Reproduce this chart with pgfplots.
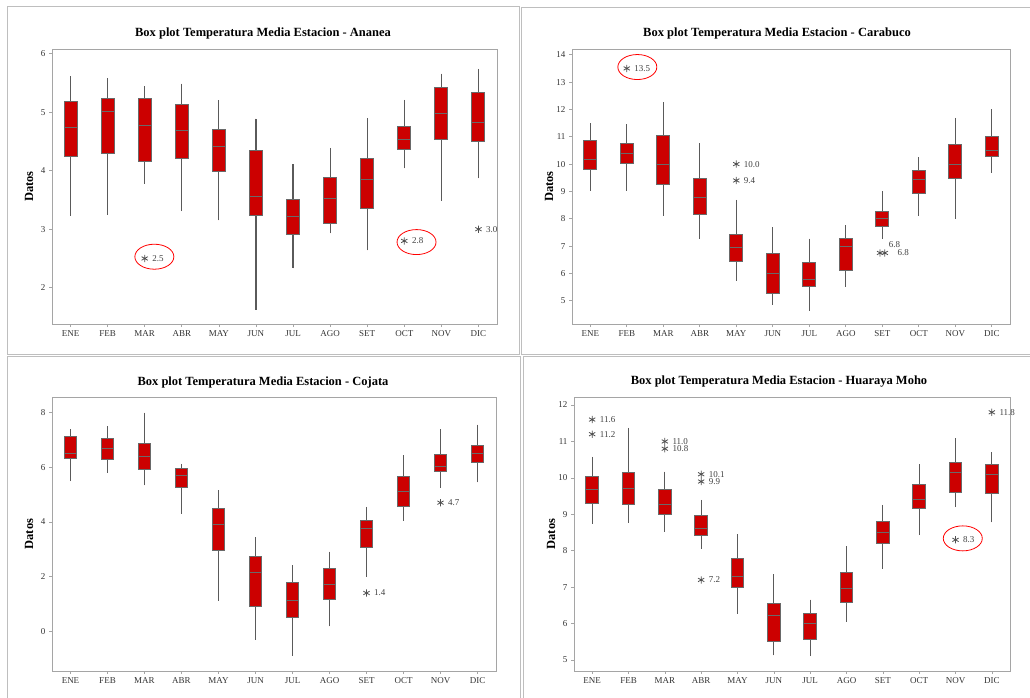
\documentclass[border=0pt]{standalone}
\usepackage{fontspec}
\setmainfont{Liberation Serif}
\usepackage{pgfplots}
\usepackage{pgfplotstable}
\usepgfplotslibrary{statistics}
\pgfplotsset{compat=1.18}

\definecolor{boxred}{RGB}{204,0,0}
\definecolor{boxgray}{RGB}{105,105,105}
\definecolor{whiskgray}{RGB}{90,90,90}
\definecolor{framegray}{RGB}{165,165,165}
\definecolor{panelgray}{RGB}{190,190,190}
\definecolor{outgray}{RGB}{80,80,80}

% lw = lower whisker, lq/uq = quartiles, uw = upper whisker (ENE ... DIC)
\pgfplotstableread{
lw lq med uq uw
3.23 4.25 4.73 5.18 5.61
3.25 4.29 5.01 5.24 5.58
3.78 4.16 4.77 5.24 5.44
3.31 4.21 4.68 5.13 5.49
3.15 3.99 4.41 4.70 5.20
1.62 3.23 3.56 4.34 4.89
2.33 2.91 3.22 3.50 4.11
2.93 3.09 3.53 3.89 4.39
2.64 3.36 3.85 4.20 4.90
4.04 4.36 4.54 4.76 5.21
3.49 4.54 4.97 5.43 5.66
3.87 4.50 4.82 5.33 5.74
}\ananea

\pgfplotstableread{
lw lq med uq uw
9.02 9.80 10.18 10.87 11.50
9.02 10.01 10.37 10.76 11.46
8.11 9.26 9.99 11.03 12.27
7.27 8.14 8.77 9.48 10.76
5.73 6.43 6.95 7.44 8.69
4.85 5.25 6.00 6.74 7.69
4.63 5.51 5.76 6.41 7.27
5.51 6.11 6.98 7.27 7.76
7.27 7.71 8.00 8.27 9.00
8.11 8.91 9.43 9.78 10.25
8.00 9.47 9.99 10.70 11.69
9.69 10.28 10.50 11.01 12.00
}\carabuco

\pgfplotstableread{
lw lq med uq uw
5.49 6.30 6.50 7.12 7.39
5.79 6.28 6.68 7.06 7.49
5.33 5.91 6.38 6.85 7.99
4.30 5.26 5.71 5.95 6.12
1.11 2.94 3.91 4.49 5.15
-0.30 0.89 2.15 2.73 3.43
-0.90 0.50 1.12 1.78 2.41
0.18 1.16 1.71 2.28 2.91
1.99 3.06 3.76 4.05 4.55
4.04 4.57 5.11 5.67 6.43
5.24 5.84 6.02 6.46 7.39
5.44 6.18 6.50 6.79 7.55
}\cojata

\pgfplotstableread{
lw lq med uq uw
8.74 9.30 9.69 10.03 10.58
8.77 9.26 9.72 10.14 11.37
8.52 9.00 9.26 9.67 10.17
8.05 8.42 8.62 8.97 9.40
6.27 6.98 7.30 7.80 8.46
5.13 5.52 6.21 6.54 7.35
5.11 5.56 6.00 6.27 6.66
6.05 6.58 6.96 7.41 8.12
7.51 8.19 8.50 8.80 9.26
8.43 9.16 9.42 9.83 10.37
9.20 9.61 10.15 10.42 11.09
8.78 9.58 10.08 10.36 10.71
}\huaraya

\pgfplotsset{
  boxpanel/.style={
    scale only axis, anchor=south west,
    xmin=0.5, xmax=12.5,
    xtick={1,...,12},
    xticklabels={ENE,FEB,MAR,ABR,MAY,JUN,JUL,AGO,SET,OCT,NOV,DIC},
    tick align=outside, xtick pos=lower, ytick pos=left,
    major tick length=3pt,
    axis line style={framegray, line width=0.8pt},
    tick style={framegray, line width=0.6pt},
    ticklabel style={font=\fontsize{9}{10}\selectfont, text=black!80},
    /pgf/number format/assume math mode=true,
    ylabel={Datos},
    ylabel style={font=\bfseries\fontsize{12.5}{14}\selectfont,
      at={([xshift=-23pt]axis description cs:0,0.5)}, anchor=center},
    clip=false,
    boxplot/draw direction=y,
    boxplot/every box/.style={draw=boxgray, fill=boxred, line width=1pt},
    boxplot/every whisker/.style={draw=whiskgray, line width=1.1pt},
    boxplot/every median/.style={draw=boxgray, line width=1pt},
  },
  outl/.style={only marks, mark=asterisk, mark size=3.6pt,
    mark options={draw=outgray, line width=0.8pt},
    point meta=y,
    nodes near coords={\pgfmathprintnumber[fixed,fixed zerofill,precision=1]{\pgfplotspointmeta}},
    nodes near coords style={anchor=west, xshift=4pt,
      font=\fontsize{9}{10}\selectfont, text=black!75}},
}

% one prepared box plot per row of the table
\newcommand\drawboxes[1]{%
  \pgfplotsinvokeforeach{0,...,11}{%
    \pgfplotstablegetelem{##1}{lw}\of{#1}\let\vlw\pgfplotsretval
    \pgfplotstablegetelem{##1}{lq}\of{#1}\let\vlq\pgfplotsretval
    \pgfplotstablegetelem{##1}{med}\of{#1}\let\vmed\pgfplotsretval
    \pgfplotstablegetelem{##1}{uq}\of{#1}\let\vuq\pgfplotsretval
    \pgfplotstablegetelem{##1}{uw}\of{#1}\let\vuw\pgfplotsretval
    \edef\doplot{\noexpand\addplot[boxplot prepared={draw position=##1+1,
        draw direction=y,
        lower whisker=\vlw, lower quartile=\vlq, median=\vmed,
        upper quartile=\vuq, upper whisker=\vuw,
        box extend=0.35, whisker extend=0},
      draw=boxgray, fill=boxred, line width=1pt] coordinates {};}%
    \doplot
  }}

\begin{document}
\begin{tikzpicture}
\useasboundingbox (0,0) rectangle (1030pt,697pt);

% panel frames
\draw[panelgray, line width=0.8pt] (7pt,343pt) rectangle (519pt,691pt);
\draw[panelgray, line width=0.8pt] (1040pt,343pt) -- (521pt,343pt) -- (521pt,690pt) -- (1040pt,690pt);
\draw[panelgray, line width=0.8pt] (7pt,-5pt) -- (7pt,341pt) -- (520pt,341pt) -- (520pt,-5pt);
\draw[panelgray, line width=0.8pt] (523pt,-5pt) -- (523pt,341pt) -- (1040pt,341pt);

% titles
\node[font=\bfseries\fontsize{12.5}{14}\selectfont] at (263pt,664pt) {Box plot Temperatura Media Estacion - Ananea};
\node[font=\bfseries\fontsize{12.5}{14}\selectfont] at (777pt,664pt) {Box plot Temperatura Media Estacion - Carabuco};
\node[font=\bfseries\fontsize{12.5}{14}\selectfont] at (263pt,315pt) {Box plot Temperatura Media Estacion - Cojata};
\node[font=\bfseries\fontsize{12.5}{14}\selectfont] at (779pt,315pt) {Box plot Temperatura Media Estacion - Huaraya Moho};

% Ananea
\begin{axis}[boxpanel, at={(52pt,373pt)}, width=445pt, height=275pt,
  ymin=1.38, ymax=6.08, ytick={2,3,4,5,6}]
\drawboxes{\ananea}
\addplot[outl] coordinates {(3,2.5) (10,2.8) (12,3.0)};
\draw[red, line width=0.8pt] (axis cs:3.26,2.53) ellipse [x radius=19.5pt, y radius=12.5pt];
\draw[red, line width=0.8pt] (axis cs:10.33,2.78) ellipse [x radius=19.5pt, y radius=12.5pt];
\end{axis}

% Carabuco
\begin{axis}[boxpanel, at={(572pt,373pt)}, width=438pt, height=275pt,
  ymin=4.15, ymax=14.21, ytick={5,...,14}]
\drawboxes{\carabuco}
\addplot[outl] coordinates {(2,13.5) (5,10.0) (5,9.4)};
\addplot[outl, nodes near coords style={xshift=5pt}] coordinates {(9.07,6.75)};
\addplot[outl, nodes near coords style={xshift=1pt, yshift=8pt}] coordinates {(8.94,6.75)};
\draw[red, line width=0.8pt] (axis cs:2.29,13.55) ellipse [x radius=19.5pt, y radius=12.5pt];
\end{axis}

% Cojata
\begin{axis}[boxpanel, at={(52pt,26pt)}, width=444pt, height=274pt,
  ymin=-1.45, ymax=8.56, ytick={0,2,4,6,8}]
\drawboxes{\cojata}
\addplot[outl] coordinates {(9,1.4) (11,4.7)};
\end{axis}

% Huaraya Moho
\begin{axis}[boxpanel, at={(574pt,26pt)}, width=436pt, height=274pt,
  ymin=4.70, ymax=12.22, ytick={5,...,12}]
\drawboxes{\huaraya}
\addplot[outl] coordinates {(1,11.6) (1,11.2) (3,11.0) (3,10.8) (4,10.1) (4,9.9) (4,7.2) (11,8.3) (12,11.8)};
\draw[red, line width=0.8pt] (axis cs:11.2,8.34) ellipse [x radius=19.5pt, y radius=12.5pt];
\end{axis}
\end{tikzpicture}
\end{document}
